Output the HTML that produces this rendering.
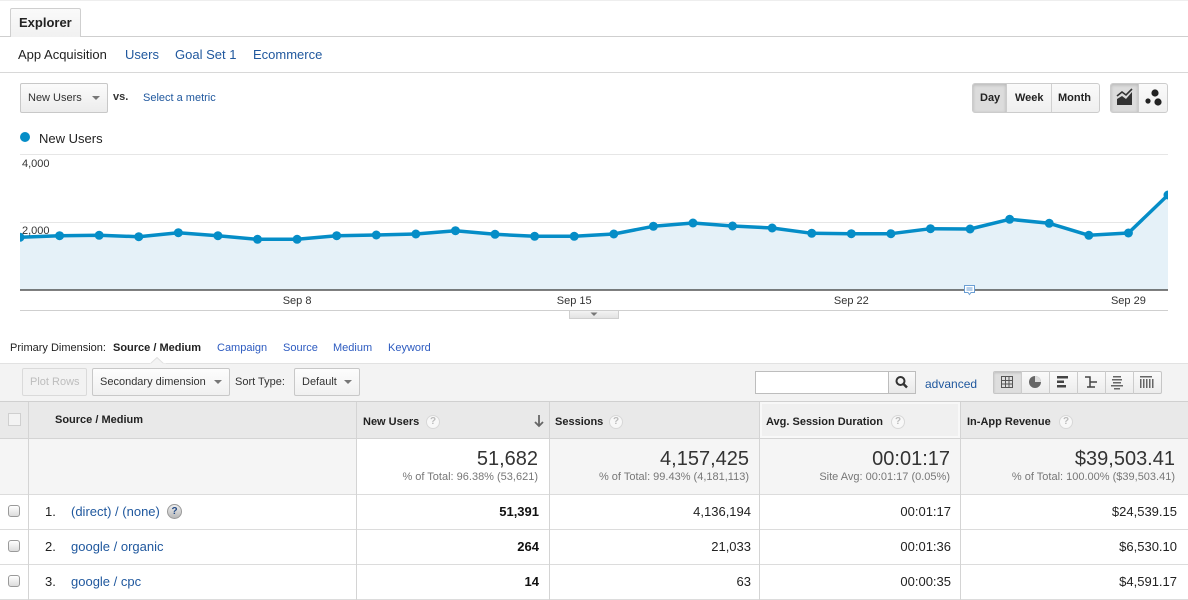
<!DOCTYPE html>
<html>
<head>
<meta charset="utf-8">
<style>
*{margin:0;padding:0;box-sizing:border-box;}
html,body{width:1188px;height:600px;overflow:hidden;background:#fff;font-family:"Liberation Sans",Arial,sans-serif;color:#222;}
.a{position:absolute;white-space:nowrap;}
.f11{font-size:11px;line-height:13px;}
.f12{font-size:12px;line-height:14px;}
.f13{font-size:13px;line-height:15px;}
.f20{font-size:20px;line-height:23px;}
.b{font-weight:bold;}
.lnk{color:#20589e;}
.lnk2{color:#2d5bc0;}
.btn{position:absolute;border:1px solid #c8c8c8;border-radius:2px;background:linear-gradient(#fbfbfb,#ececec);}
.caret{position:absolute;width:0;height:0;border-left:4px solid transparent;border-right:4px solid transparent;border-top:4px solid #777;}
.vline{position:absolute;width:1px;background:#d4d4d4;}
.hline{position:absolute;height:1px;background:#dcdcdc;}
.help{position:absolute;width:14px;height:14px;border-radius:50%;border:1px solid #d8d8d8;background:#f8f8f8;color:#bbb;font-size:10px;line-height:12px;text-align:center;font-weight:bold;}
.cb{position:absolute;left:8px;width:12px;height:12px;border:1px solid #9a9a9a;border-radius:3px;background:linear-gradient(#fff,#dcdcdc);}
</style>
</head>
<body>
<!-- top faint line -->
<div class="hline" style="left:0;top:0;width:1188px;background:#eee;"></div>

<!-- Explorer tab -->
<div class="a" style="left:10px;top:8px;width:71px;height:29px;border:1px solid #cfcfcf;border-bottom:none;background:linear-gradient(#fafafa,#f1f1f1);border-radius:2px 2px 0 0;"></div>
<div class="hline" style="left:0;top:36px;width:10px;background:#cfcfcf;"></div>
<div class="hline" style="left:81px;top:36px;width:1107px;background:#cfcfcf;"></div>
<div class="a f13 b" style="left:19px;top:15px;color:#222;">Explorer</div>

<!-- nav -->
<div class="a f13" style="left:18px;top:46.5px;color:#222;">App Acquisition</div>
<div class="a f13 lnk" style="left:125px;top:46.5px;">Users</div>
<div class="a f13 lnk" style="left:175px;top:46.5px;">Goal Set 1</div>
<div class="a f13 lnk" style="left:253px;top:46.5px;">Ecommerce</div>
<div class="hline" style="left:0;top:72px;width:1188px;background:#d8d8d8;"></div>

<!-- metric selector -->
<div class="btn" style="left:20px;top:83px;width:88px;height:30px;"></div>
<div class="a f11" style="left:28px;top:92px;color:#333;">New Users</div>
<div class="caret" style="left:92px;top:96px;"></div>
<div class="a f11 b" style="left:113px;top:91px;color:#333;">vs.</div>
<div class="a f11 lnk" style="left:143px;top:92px;">Select a metric</div>

<!-- Day Week Month -->
<div class="a" style="left:972px;top:83px;width:128px;height:30px;border:1px solid #ccc;border-radius:3px;background:linear-gradient(#fafafa,#efefef);overflow:hidden;">
  <div class="a" style="left:0;top:0;width:34px;height:28px;background:#dcdcdc;box-shadow:inset 0 1px 3px rgba(0,0,0,.18);border-right:1px solid #ccc;"></div>
  <div class="a" style="left:78px;top:0;width:1px;height:28px;background:#d0d0d0;"></div>
</div>
<div class="a f11 b" style="left:980px;top:92px;color:#222;">Day</div>
<div class="a f11 b" style="left:1015px;top:92px;color:#222;">Week</div>
<div class="a f11 b" style="left:1058px;top:92px;color:#222;">Month</div>

<!-- chart type buttons -->
<div class="a" style="left:1110px;top:83px;width:58px;height:30px;border:1px solid #ccc;border-radius:3px;background:linear-gradient(#fafafa,#efefef);overflow:hidden;">
  <div class="a" style="left:0;top:0;width:28px;height:28px;background:#dcdcdc;box-shadow:inset 0 1px 3px rgba(0,0,0,.18);border-right:1px solid #ccc;"></div>
</div>
<svg class="a" style="left:1110px;top:83px;" width="58" height="30">
  <polygon points="7,22 7,16 12,13 16,16 22,9 22,22" fill="#333"/>
  <polyline points="7,13 12,9 16,12 22,6" fill="none" stroke="#333" stroke-width="1.6"/>
  <circle cx="45" cy="10" r="3.6" fill="#222"/>
  <circle cx="38" cy="18" r="2.6" fill="#222"/>
  <circle cx="48" cy="19" r="3.6" fill="#222"/>
</svg>

<!-- legend -->
<div class="a" style="left:20px;top:132px;width:10px;height:10px;border-radius:50%;background:#058dc7;"></div>
<div class="a f13" style="left:39px;top:130.5px;color:#222;">New Users</div>

<!-- chart -->
<svg class="a" style="left:0;top:0;" width="1188" height="330">
  <defs><clipPath id="c"><rect x="20" y="148" width="1148" height="143"/></clipPath>
  <linearGradient id="tg" x1="0" y1="0" x2="0" y2="1"><stop offset="0" stop-color="#f4f4f4"/><stop offset="1" stop-color="#e2e2e2"/></linearGradient></defs>
  <line x1="20" y1="154.5" x2="1168" y2="154.5" stroke="#e6e6e6"/>
  <line x1="20" y1="222.5" x2="1168" y2="222.5" stroke="#e6e6e6"/>
  <g clip-path="url(#c)">
  <polygon fill="#e5f1f8" points="20,237.3 59.59,235.7 99.17,235.3 138.76,236.7 178.34,232.7 217.93,235.7 257.52,239.3 297.1,239.3 336.69,235.7 376.28,235 415.86,234 455.45,230.7 495.03,234.3 534.62,236.3 574.21,236.3 613.79,234 653.38,226.3 692.97,223 732.55,226 772.14,228 811.72,233.3 851.31,233.7 890.9,233.7 930.48,228.7 970.07,229 1009.66,219.3 1049.24,223.3 1088.83,235.3 1128.41,233 1168,195 1168,290 20,290"/>
  <polyline fill="none" stroke="#058dc7" stroke-width="3.5" stroke-linejoin="round" points="20,237.3 59.59,235.7 99.17,235.3 138.76,236.7 178.34,232.7 217.93,235.7 257.52,239.3 297.1,239.3 336.69,235.7 376.28,235 415.86,234 455.45,230.7 495.03,234.3 534.62,236.3 574.21,236.3 613.79,234 653.38,226.3 692.97,223 732.55,226 772.14,228 811.72,233.3 851.31,233.7 890.9,233.7 930.48,228.7 970.07,229 1009.66,219.3 1049.24,223.3 1088.83,235.3 1128.41,233 1168,195"/>
  <g fill="#058dc7">
    <circle cx="20" cy="237.3" r="4.5"/><circle cx="59.59" cy="235.7" r="4.5"/><circle cx="99.17" cy="235.3" r="4.5"/><circle cx="138.76" cy="236.7" r="4.5"/><circle cx="178.34" cy="232.7" r="4.5"/><circle cx="217.93" cy="235.7" r="4.5"/><circle cx="257.52" cy="239.3" r="4.5"/><circle cx="297.1" cy="239.3" r="4.5"/><circle cx="336.69" cy="235.7" r="4.5"/><circle cx="376.28" cy="235" r="4.5"/><circle cx="415.86" cy="234" r="4.5"/><circle cx="455.45" cy="230.7" r="4.5"/><circle cx="495.03" cy="234.3" r="4.5"/><circle cx="534.62" cy="236.3" r="4.5"/><circle cx="574.21" cy="236.3" r="4.5"/><circle cx="613.79" cy="234" r="4.5"/><circle cx="653.38" cy="226.3" r="4.5"/><circle cx="692.97" cy="223" r="4.5"/><circle cx="732.55" cy="226" r="4.5"/><circle cx="772.14" cy="228" r="4.5"/><circle cx="811.72" cy="233.3" r="4.5"/><circle cx="851.31" cy="233.7" r="4.5"/><circle cx="890.9" cy="233.7" r="4.5"/><circle cx="930.48" cy="228.7" r="4.5"/><circle cx="970.07" cy="229" r="4.5"/><circle cx="1009.66" cy="219.3" r="4.5"/><circle cx="1049.24" cy="223.3" r="4.5"/><circle cx="1088.83" cy="235.3" r="4.5"/><circle cx="1128.41" cy="233" r="4.5"/><circle cx="1168" cy="195" r="4.5"/>
  </g>
  </g>
  <line x1="20" y1="290" x2="1168" y2="290" stroke="#333" stroke-width="1.2"/>
  <text x="22" y="167" font-family="Liberation Sans, Arial, sans-serif" font-size="11" fill="#333">4,000</text>
  <text x="22" y="234" font-family="Liberation Sans, Arial, sans-serif" font-size="11" fill="#333">2,000</text>
  <g font-family="Liberation Sans, Arial, sans-serif" font-size="11" fill="#333" text-anchor="middle">
    <text x="297.1" y="304">Sep 8</text>
    <text x="574.2" y="304">Sep 15</text>
    <text x="851.3" y="304">Sep 22</text>
    <text x="1128.4" y="304">Sep 29</text>
  </g>
  <!-- annotation icon -->
  <path d="M964.5,285.5 h10 v7 h-3.5 l-1.5,2 l-1.5,-2 h-3.5 z" fill="#fff" stroke="#6b9fd4" stroke-width="1"/>
  <line x1="966.5" y1="288" x2="972.5" y2="288" stroke="#6b9fd4"/>
  <line x1="966.5" y1="290" x2="972.5" y2="290" stroke="#6b9fd4"/>
  <line x1="20" y1="310.5" x2="1168" y2="310.5" stroke="#cfcfcf"/>
  <rect x="569.5" y="310.5" width="49" height="8" fill="url(#tg)" stroke="#cfcfcf"/>
  <polygon points="590.5,312.5 597.5,312.5 594,316" fill="#777"/>
</svg>

<!-- primary dimension -->
<div class="a f11" style="left:10px;top:341.7px;color:#222;">Primary Dimension:</div>
<div class="a f11 b" style="left:113px;top:341.7px;color:#222;">Source / Medium</div>
<div class="a f11 lnk2" style="left:217px;top:341.7px;">Campaign</div>
<div class="a f11 lnk2" style="left:283px;top:341.7px;">Source</div>
<div class="a f11 lnk2" style="left:333px;top:341.7px;">Medium</div>
<div class="a f11 lnk2" style="left:388px;top:341.7px;">Keyword</div>

<!-- toolbar band -->
<div class="a" style="left:0;top:363px;width:1188px;height:39px;background:#f3f3f3;border-top:1px solid #e2e2e2;"></div>
<svg class="a" style="left:150px;top:357px;" width="16" height="8"><polygon points="0,7 7,0.5 14,7" fill="#f3f3f3" stroke="#e0e0e0"/><rect x="0" y="6.5" width="16" height="2" fill="#f3f3f3"/></svg>
<div class="a" style="left:22px;top:368px;width:65px;height:28px;border:1px solid #dadada;border-radius:2px;background:#f2f2f2;"></div>
<div class="a f11" style="left:30px;top:376px;color:#bdbdbd;">Plot Rows</div>
<div class="btn" style="left:92px;top:368px;width:138px;height:28px;background:linear-gradient(#fdfdfd,#f0f0f0);"></div>
<div class="a f11" style="left:100px;top:376px;color:#333;">Secondary dimension</div>
<div class="caret" style="left:214px;top:380px;"></div>
<div class="a f11" style="left:235px;top:376px;color:#333;">Sort Type:</div>
<div class="btn" style="left:294px;top:368px;width:66px;height:28px;background:linear-gradient(#fdfdfd,#f0f0f0);"></div>
<div class="a f11" style="left:302px;top:376px;color:#333;">Default</div>
<div class="caret" style="left:344px;top:380px;"></div>

<!-- search -->
<div class="a" style="left:755px;top:371px;width:134px;height:23px;border:1px solid #bdbdbd;background:#fff;"></div>
<div class="a" style="left:888px;top:371px;width:28px;height:23px;border:1px solid #bdbdbd;background:linear-gradient(#fafafa,#e9e9e9);"></div>
<svg class="a" style="left:888px;top:371px;" width="28" height="23"><circle cx="12.5" cy="10" r="4" fill="none" stroke="#333" stroke-width="2"/><line x1="15.5" y1="13" x2="19" y2="16.5" stroke="#333" stroke-width="2.5"/></svg>
<div class="a f12 lnk" style="left:925px;top:376.8px;">advanced</div>

<!-- view buttons -->
<div class="a" style="left:993px;top:371px;width:169px;height:23px;border:1px solid #c6c6c6;border-radius:2px;background:linear-gradient(#fafafa,#ececec);overflow:hidden;">
  <div class="a" style="left:0;top:0;width:28px;height:21px;background:#dedede;box-shadow:inset 0 1px 2px rgba(0,0,0,.15);"></div>
</div>
<svg class="a" style="left:993px;top:371px;" width="169" height="23">
  <g stroke="#ccc"><line x1="28.5" y1="0" x2="28.5" y2="23"/><line x1="56.5" y1="0" x2="56.5" y2="23"/><line x1="84.5" y1="0" x2="84.5" y2="23"/><line x1="112.5" y1="0" x2="112.5" y2="23"/><line x1="140.5" y1="0" x2="140.5" y2="23"/></g>
  <g stroke="#555" fill="none" stroke-width="1"><rect x="8.5" y="5.5" width="11" height="11"/><line x1="12.5" y1="5.5" x2="12.5" y2="16.5"/><line x1="16" y1="5.5" x2="16" y2="16.5"/><line x1="8.5" y1="9.5" x2="19.5" y2="9.5"/><line x1="8.5" y1="13" x2="19.5" y2="13"/></g>
  <circle cx="42" cy="11" r="6" fill="#666"/><path d="M42,11 L42,5 A6,6 0 0 1 48,11 Z" fill="#ddd"/>
  <g fill="#444"><rect x="64" y="5" width="11" height="2.5"/><rect x="64" y="9.5" width="7" height="2.5"/><rect x="64" y="14" width="9" height="2.5"/></g>
  <g stroke="#444" stroke-width="1.5" fill="none"><polyline points="92,6 97,6 97,16"/><line x1="97" y1="11" x2="104" y2="11"/><line x1="94" y1="16" x2="102" y2="16"/></g>
  <g fill="#666"><rect x="120" y="5" width="8" height="1.5"/><rect x="119" y="8" width="10" height="1.5"/><rect x="120" y="11" width="8" height="1.5"/><rect x="118" y="14" width="12" height="1.5"/><rect x="121" y="17" width="6" height="1.5"/></g>
  <g fill="#666"><rect x="147" y="5" width="12" height="1.5"/><rect x="147" y="8" width="1.5" height="9"/><rect x="150" y="8" width="1.5" height="9"/><rect x="153" y="8" width="1.5" height="9"/><rect x="156" y="8" width="1.5" height="9"/><rect x="159" y="8" width="1.5" height="9"/></g>
</svg>

<!-- table header -->
<div class="a" style="left:0;top:401px;width:1188px;height:38px;background:#e9e9e9;border-top:1px solid #d0d0d0;border-bottom:1px solid #d4d4d4;"></div>
<div class="a" style="left:760px;top:402px;width:200px;height:36px;background:#f0f0f0;box-shadow:inset 0 0 0 2px #f8f8f8;"></div>
<div class="a" style="left:8px;top:413px;width:13px;height:13px;border:1px solid #cfcfcf;background:#f3f3f3;"></div>
<div class="a f11 b" style="left:55px;top:413.7px;color:#222;">Source / Medium</div>
<div class="a f11 b" style="left:363px;top:415.7px;color:#222;">New Users</div>
<div class="help" style="left:426px;top:415px;">?</div>
<svg class="a" style="left:533px;top:414px;" width="12" height="14"><line x1="6" y1="1" x2="6" y2="12" stroke="#666" stroke-width="1.8"/><polyline points="2,8 6,12 10,8" fill="none" stroke="#666" stroke-width="1.8"/></svg>
<div class="a f11 b" style="left:555px;top:415.7px;color:#222;">Sessions</div>
<div class="help" style="left:609px;top:415px;">?</div>
<div class="a f11 b" style="left:766px;top:415.7px;color:#222;">Avg. Session Duration</div>
<div class="help" style="left:891px;top:415px;">?</div>
<div class="a f11 b" style="left:967px;top:415.7px;color:#222;">In-App Revenue</div>
<div class="help" style="left:1059px;top:415px;">?</div>

<!-- totals row -->
<div class="a" style="left:0;top:439px;width:1188px;height:55px;background:#f5f5f5;"></div>
<div class="a" style="left:357px;top:439px;width:192px;height:55px;background:#fff;"></div>
<div class="a f20" style="right:650px;top:447.6px;color:#333;">51,682</div>
<div class="a f11" style="right:650px;top:471px;color:#777;">% of Total: 96.38% (53,621)</div>
<div class="a f20" style="right:439px;top:447.6px;color:#333;">4,157,425</div>
<div class="a f11" style="right:439px;top:471px;color:#777;">% of Total: 99.43% (4,181,113)</div>
<div class="a f20" style="right:238px;top:447.6px;color:#333;">00:01:17</div>
<div class="a f11" style="right:238px;top:471px;color:#777;">Site Avg: 00:01:17 (0.05%)</div>
<div class="a f20" style="right:13px;top:447.6px;color:#333;">$39,503.41</div>
<div class="a f11" style="right:13px;top:471px;color:#777;">% of Total: 100.00% ($39,503.41)</div>

<!-- row lines -->
<div class="hline" style="left:0;top:494px;width:1188px;"></div>
<div class="hline" style="left:0;top:529px;width:1188px;"></div>
<div class="hline" style="left:0;top:564px;width:1188px;"></div>
<div class="hline" style="left:0;top:599px;width:1188px;"></div>

<!-- vertical dividers -->
<div class="vline" style="left:28px;top:402px;height:198px;"></div>
<div class="vline" style="left:356px;top:402px;height:198px;"></div>
<div class="vline" style="left:549px;top:402px;height:198px;"></div>
<div class="vline" style="left:759px;top:402px;height:198px;"></div>
<div class="vline" style="left:960px;top:402px;height:198px;"></div>

<!-- rows -->
<div class="cb" style="top:505px;"></div>
<div class="a f13" style="left:45px;top:504px;color:#222;">1.</div>
<div class="a f13 lnk" style="left:71px;top:504px;">(direct) / (none)</div>
<div class="a" style="left:167px;top:504px;width:15px;height:15px;border-radius:50%;border:1px solid #9a9a9a;background:linear-gradient(#eee,#b8b8b8);color:#234a86;font-size:10px;line-height:13px;text-align:center;font-weight:bold;">?</div>
<div class="a f13 b" style="right:649px;top:504px;color:#111;">51,391</div>
<div class="a f13" style="right:437px;top:504px;color:#222;">4,136,194</div>
<div class="a f13" style="right:237px;top:504px;color:#222;">00:01:17</div>
<div class="a f13" style="right:11px;top:504px;color:#222;">$24,539.15</div>

<div class="cb" style="top:540px;"></div>
<div class="a f13" style="left:45px;top:539px;color:#222;">2.</div>
<div class="a f13 lnk" style="left:71px;top:539px;">google / organic</div>
<div class="a f13 b" style="right:649px;top:539px;color:#111;">264</div>
<div class="a f13" style="right:437px;top:539px;color:#222;">21,033</div>
<div class="a f13" style="right:237px;top:539px;color:#222;">00:01:36</div>
<div class="a f13" style="right:11px;top:539px;color:#222;">$6,530.10</div>

<div class="cb" style="top:575px;"></div>
<div class="a f13" style="left:45px;top:574px;color:#222;">3.</div>
<div class="a f13 lnk" style="left:71px;top:574px;">google / cpc</div>
<div class="a f13 b" style="right:649px;top:574px;color:#111;">14</div>
<div class="a f13" style="right:437px;top:574px;color:#222;">63</div>
<div class="a f13" style="right:237px;top:574px;color:#222;">00:00:35</div>
<div class="a f13" style="right:11px;top:574px;color:#222;">$4,591.17</div>
</body>
</html>
